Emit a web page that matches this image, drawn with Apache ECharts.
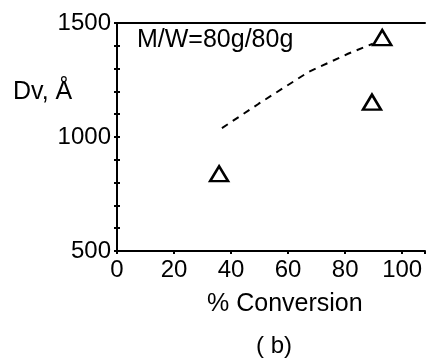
<!DOCTYPE html>
<html>
<head>
<meta charset="utf-8">
<script src="https://cdn.jsdelivr.net/npm/echarts@6/dist/echarts.min.js"></script>
<style>
  html, body { margin: 0; padding: 0; background: #fff; }
  #chart { width: 428px; height: 358px; }
</style>
</head>
<body>
<div id="chart"></div>
<script>
  // measured points (% conversion, Dv in Angstrom)
  const measured = [[35.8, 839], [89.4, 1153], [93.0, 1436]];
  // dashed curve
  const curve = [[36.8, 1039], [49.7, 1146], [67.1, 1285], [81.0, 1365], [89.7, 1409]];
  const xTickLabels = [0, 20, 40, 60, 80, 100];
  const yTickLabels = [500, 1000, 1500];

  const font = 'Liberation Sans';
  const chart = echarts.init(document.getElementById('chart'));

  const yBase = {
    type: 'value',
    min: 500,
    max: 1500,
    interval: 100,
    splitLine: {show: false},
    axisLine: {show: true, lineStyle: {color: '#000', width: 2}}
  };

  const option = {
    animation: false,
    backgroundColor: '#fff',
    grid: {left: 117, right: 0, top: 23, bottom: 107},
    xAxis: [{
      type: 'value',
      min: 0,
      max: 108,
      interval: 20,
      splitLine: {show: false},
      axisLine: {lineStyle: {color: '#000', width: 2}},
      axisTick: {length: 3, lineStyle: {color: '#000', width: 2}},
      axisLabel: {
        color: '#000', fontFamily: font, fontSize: 24, margin: 7,
        formatter: v => xTickLabels.indexOf(v) >= 0 ? String(v) : ''
      }
    }, {
      type: 'value',
      position: 'top',
      min: 0,
      max: 108,
      axisLine: {show: true, lineStyle: {color: '#000', width: 2}},
      axisTick: {show: false},
      axisLabel: {show: false},
      splitLine: {show: false}
    }],
    yAxis: [Object.assign({}, yBase, {
      axisTick: {length: 3, lineStyle: {color: '#000', width: 2}},
      axisLabel: {
        color: '#000', fontFamily: font, fontSize: 24, margin: 6,
        formatter: v => yTickLabels.indexOf(v) >= 0 ? String(v) : ''
      }
    }), Object.assign({}, yBase, {
      position: 'left',
      axisTick: {inside: true, length: 3, lineStyle: {color: '#000', width: 2}},
      axisLabel: {show: false}
    })],
    series: [{
      type: 'line',
      data: curve,
      smooth: false,
      symbol: 'none',
      lineStyle: {color: '#000', width: 2, type: [7, 6]}
    }, {
      type: 'scatter',
      data: measured,
      symbol: 'triangle',
      symbolSize: [18, 15],
      itemStyle: {color: '#fff', borderColor: '#000', borderWidth: 2.5, opacity: 1}
    }],
    graphic: [{
      type: 'text', left: 137, top: 28,
      style: {text: 'M/W=80g/80g', font: '25px "Liberation Sans"', fill: '#000'}
    }, {
      type: 'text', left: 13, top: 80,
      style: {text: 'Dv, Å', font: '25px "Liberation Sans"', fill: '#000'}
    }, {
      type: 'text', left: 207, top: 292,
      style: {text: '% Conversion', font: '25px "Liberation Sans"', fill: '#000'}
    }, {
      type: 'text', left: 256, top: 334,
      style: {text: '( b)', font: '24px "Liberation Sans"', fill: '#000'}
    }]
  };

  chart.setOption(option);
</script>
</body>
</html>
